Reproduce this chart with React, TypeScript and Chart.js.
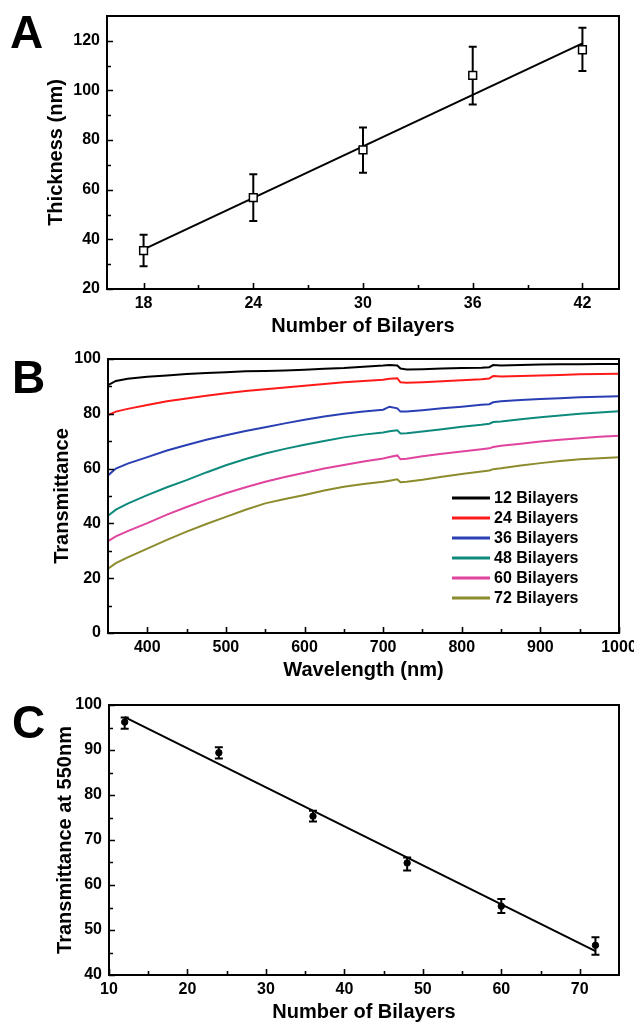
import React, { useEffect, useRef } from "react";
import { Chart, registerables } from "chart.js";

Chart.register(...registerables);

const FONT = "'Liberation Sans', Arial, Helvetica, sans-serif";

// ---------- Panel A ----------
const bilayersA = [18, 24, 30, 36, 42];
const thicknessA = [35.5, 56.8, 76.1, 106.1, 116.4];
const thicknessLowA = [29.2, 47.4, 66.8, 94.3, 107.8];
const thicknessHighA = [41.9, 66.2, 85.1, 117.6, 125.3];
const fitXA = [18, 42];
const fitYA = [36, 119];
const xTicksA = [18, 24, 30, 36, 42];
const xMinorA = [21, 27, 33, 39];
const yTicksA = [20, 40, 60, 80, 100, 120];
const yMinorA = [30, 50, 70, 90, 110];

// ---------- Panel B ----------
const wavelengthB = [350, 360, 375, 400, 425, 450, 475, 500, 525, 550, 575, 600, 625, 650, 675, 700, 708, 718, 722, 730, 750, 775, 800, 825, 835, 840, 850, 875, 900, 925, 950, 975, 1000];
const labelsB = ["12 Bilayers", "24 Bilayers", "36 Bilayers", "48 Bilayers", "60 Bilayers", "72 Bilayers"];
const colorsB = ["#000000", "#ff1a1a", "#2a3fb3", "#0e8a7c", "#e0449e", "#8c8c2e"];
const trans12 = [90.5, 92.0, 92.8, 93.5, 94.0, 94.5, 94.9, 95.2, 95.5, 95.6, 95.8, 96.1, 96.4, 96.7, 97.2, 97.6, 97.8, 97.6, 96.5, 96.2, 96.3, 96.5, 96.7, 96.8, 97.0, 97.8, 97.6, 97.8, 98.0, 98.1, 98.1, 98.2, 98.2];
const trans24 = [79.5, 80.8, 81.8, 83.2, 84.6, 85.6, 86.6, 87.5, 88.3, 89.0, 89.6, 90.2, 90.9, 91.5, 92.0, 92.4, 92.8, 93.0, 91.5, 91.3, 91.5, 91.9, 92.2, 92.6, 92.9, 93.8, 93.6, 93.8, 94.0, 94.2, 94.4, 94.5, 94.6];
const trans36 = [57.5, 60.0, 61.8, 64.2, 66.6, 68.6, 70.5, 72.2, 73.7, 75.1, 76.5, 77.8, 79.0, 80.0, 80.8, 81.5, 82.6, 82.0, 80.8, 80.8, 81.3, 82.0, 82.6, 83.3, 83.5, 84.2, 84.6, 85.0, 85.4, 85.7, 86.0, 86.2, 86.4];
const trans48 = [42.8, 45.0, 47.2, 50.3, 53.2, 55.8, 58.6, 61.2, 63.5, 65.5, 67.2, 68.7, 70.1, 71.4, 72.4, 73.2, 73.6, 74.0, 72.8, 72.9, 73.5, 74.4, 75.3, 76.0, 76.4, 77.0, 77.2, 78.0, 78.7, 79.4, 80.0, 80.5, 80.9];
const trans60 = [33.5, 35.3, 37.2, 40.1, 43.2, 46.0, 48.6, 51.0, 53.2, 55.2, 56.9, 58.5, 60.0, 61.3, 62.6, 63.7, 64.2, 64.8, 63.4, 63.6, 64.5, 65.4, 66.2, 67.1, 67.4, 67.9, 68.3, 69.1, 69.9, 70.5, 71.1, 71.6, 72.0];
const trans72 = [23.5, 25.5, 27.6, 30.8, 34.0, 37.0, 39.8, 42.4, 45.0, 47.3, 48.9, 50.4, 52.0, 53.4, 54.4, 55.2, 55.6, 56.1, 55.0, 55.2, 55.9, 57.0, 58.0, 58.9, 59.3, 59.8, 60.1, 61.1, 62.0, 62.8, 63.4, 63.8, 64.1];
const seriesB = [trans12, trans24, trans36, trans48, trans60, trans72];
const xTicksB = [400, 500, 600, 700, 800, 900, 1000];
const xMinorB = [450, 550, 650, 750, 850, 950];
const yTicksB = [0, 20, 40, 60, 80, 100];
const yMinorB = [10, 30, 50, 70, 90];

// ---------- Panel C ----------
const bilayersC = [12, 24, 36, 48, 60, 72];
const transC = [96.2, 89.4, 75.3, 64.9, 55.3, 46.6];
const transLowC = [94.7, 88.1, 74.1, 63.2, 53.8, 44.5];
const transHighC = [97.2, 90.6, 76.5, 66.1, 56.9, 48.4];
const fitXC = [12, 72];
const fitYC = [97.3, 45.3];
const xTicksC = [10, 20, 30, 40, 50, 60, 70];
const xMinorC = [15, 25, 35, 45, 55, 65];
const yTicksC = [40, 50, 60, 70, 80, 90, 100];
const yMinorC = [45, 55, 65, 75, 85, 95];

const tickFont = { family: FONT, size: 16, weight: "bold" as const };
const titleFont = { family: FONT, size: 20, weight: "bold" as const, lineHeight: 1 };

const framePlugin = {
  id: "frame",
  afterDraw(chart: any, _args: any, opts: any) {
    const { ctx, chartArea, scales } = chart;
    const { left, right, top, bottom } = chartArea;
    ctx.save();
    ctx.strokeStyle = "#000";
    ctx.lineWidth = 2;
    ctx.strokeRect(left, top, right - left, bottom - top);
    ctx.lineWidth = 1.6;
    ctx.beginPath();
    for (const v of opts.xMajor) {
      const px = Math.round(scales.x.getPixelForValue(v)) + 0.5;
      ctx.moveTo(px, bottom);
      ctx.lineTo(px, bottom - 6);
    }
    for (const v of opts.xMinor) {
      const px = Math.round(scales.x.getPixelForValue(v)) + 0.5;
      ctx.moveTo(px, bottom);
      ctx.lineTo(px, bottom - 4);
    }
    for (const v of opts.yMajor) {
      const py = Math.round(scales.y.getPixelForValue(v)) + 0.5;
      ctx.moveTo(left, py);
      ctx.lineTo(left + 6, py);
    }
    for (const v of opts.yMinor) {
      const py = Math.round(scales.y.getPixelForValue(v)) + 0.5;
      ctx.moveTo(left, py);
      ctx.lineTo(left + 4, py);
    }
    ctx.stroke();
    ctx.restore();
  },
};

const errorBarPlugin = {
  id: "errbars",
  beforeDatasetsDraw(chart: any, _args: any, opts: any) {
    if (!opts || !opts.low) return;
    const { ctx, scales } = chart;
    ctx.save();
    ctx.strokeStyle = "#000";
    ctx.lineWidth = opts.width || 2;
    ctx.beginPath();
    opts.xs.forEach((xv: number, i: number) => {
      const px = scales.x.getPixelForValue(xv);
      const pl = scales.y.getPixelForValue(opts.low[i]);
      const ph = scales.y.getPixelForValue(opts.high[i]);
      ctx.moveTo(px, pl);
      ctx.lineTo(px, ph);
      ctx.moveTo(px - opts.cap, pl);
      ctx.lineTo(px + opts.cap, pl);
      ctx.moveTo(px - opts.cap, ph);
      ctx.lineTo(px + opts.cap, ph);
    });
    ctx.stroke();
    ctx.restore();
  },
};

const legendPlugin = {
  id: "insideLegend",
  afterDraw(chart: any, _args: any, opts: any) {
    if (!opts || !opts.show) return;
    const { ctx, chartArea } = chart;
    ctx.save();
    ctx.font = `bold 16px ${FONT}`;
    ctx.textAlign = "left";
    ctx.textBaseline = "middle";
    chart.data.datasets.forEach((ds: any, i: number) => {
      const y = chartArea.top + opts.top + i * opts.row;
      const x0 = chartArea.right - opts.fromRight;
      ctx.strokeStyle = ds.borderColor;
      ctx.lineWidth = 3;
      ctx.beginPath();
      ctx.moveTo(x0, y);
      ctx.lineTo(x0 + 38, y);
      ctx.stroke();
      ctx.fillStyle = "#000";
      ctx.fillText(ds.label, x0 + 42, y + 1);
    });
    ctx.restore();
  },
};

function makeScales(cfg: any) {
  return {
    x: {
      type: "linear",
      min: cfg.xMin,
      max: cfg.xMax,
      afterBuildTicks: (s: any) => {
        s.ticks = cfg.xTicks.map((v: number) => ({ value: v }));
      },
      afterFit: (s: any) => {
        s.height = cfg.xHeight;
        s.paddingLeft = 0;
        s.paddingRight = 0;
      },
      grid: { display: false, drawTicks: false },
      border: { display: false },
      ticks: {
        font: tickFont,
        color: "#000",
        padding: cfg.xTickPad,
        maxRotation: 0,
        autoSkip: false,
        callback: (v: any) => String(v),
      },
      title: {
        display: true,
        text: cfg.xTitle,
        font: titleFont,
        color: "#000",
        padding: { top: 0, bottom: cfg.xTitlePad },
      },
    },
    y: {
      type: "linear",
      min: cfg.yMin,
      max: cfg.yMax,
      afterBuildTicks: (s: any) => {
        s.ticks = cfg.yTicks.map((v: number) => ({ value: v }));
      },
      afterFit: (s: any) => {
        s.width = cfg.yWidth;
        s.paddingTop = 0;
        s.paddingBottom = 0;
      },
      grid: { display: false, drawTicks: false },
      border: { display: false },
      ticks: { font: tickFont, color: "#000", padding: 7, autoSkip: false, callback: (v: any) => String(v) },
      title: {
        display: true,
        text: cfg.yTitle,
        font: titleFont,
        color: "#000",
        padding: { top: cfg.yTitlePad, bottom: 0 },
      },
    },
  };
}

export default function App() {
  const refA = useRef<HTMLCanvasElement>(null);
  const refB = useRef<HTMLCanvasElement>(null);
  const refC = useRef<HTMLCanvasElement>(null);

  useEffect(() => {
    const charts: Chart[] = [];

    // Panel A
    charts.push(
      new Chart(refA.current as HTMLCanvasElement, {
        type: "scatter",
        data: {
          datasets: [
            {
              label: "Thickness",
              data: bilayersA.map((x, i) => ({ x, y: thicknessA[i] })),
              pointStyle: "rect",
              pointRadius: 5.5,
              backgroundColor: "#fff",
              borderColor: "#000",
              borderWidth: 1.5,
              showLine: false,
            },
            {
              label: "Fit",
              data: fitXA.map((x, i) => ({ x, y: fitYA[i] })),
              showLine: true,
              pointRadius: 0,
              borderColor: "#000",
              borderWidth: 2,
            },
          ],
        },
        options: {
          responsive: false,
          animation: false,
          layout: { padding: { left: 0, right: 15, top: 16, bottom: 0 } },
          plugins: {
            legend: { display: false },
            tooltip: { enabled: false },
            frame: { xMajor: xTicksA, xMinor: xMinorA, yMajor: yTicksA, yMinor: yMinorA },
            errbars: { xs: bilayersA, low: thicknessLowA, high: thicknessHighA, cap: 4, width: 2 },
          } as any,
          scales: makeScales({
            xMin: 16, xMax: 44, xTicks: xTicksA, xHeight: 56, xTickPad: 5, xTitle: "Number of Bilayers", xTitlePad: 9,
            yMin: 20, yMax: 130, yTicks: yTicksA, yWidth: 107, yTitle: "Thickness (nm)", yTitlePad: 46,
          }) as any,
        },
        plugins: [framePlugin, errorBarPlugin],
      })
    );

    // Panel B
    charts.push(
      new Chart(refB.current as HTMLCanvasElement, {
        type: "line",
        data: {
          datasets: seriesB.map((vals, k) => ({
            label: labelsB[k],
            data: wavelengthB.map((x, i) => ({ x, y: vals[i] })),
            borderColor: colorsB[k],
            backgroundColor: colorsB[k],
            borderWidth: 2,
            pointRadius: 0,
            tension: 0,
          })),
        },
        options: {
          responsive: false,
          animation: false,
          layout: { padding: { left: 0, right: 15, top: 14, bottom: 0 } },
          plugins: {
            legend: { display: false },
            tooltip: { enabled: false },
            frame: { xMajor: xTicksB, xMinor: xMinorB, yMajor: yTicksB, yMinor: yMinorB },
            insideLegend: { show: true, top: 139, row: 20, fromRight: 167 },
          } as any,
          scales: makeScales({
            xMin: 350, xMax: 1000, xTicks: xTicksB, xHeight: 52, xTickPad: 5, xTitle: "Wavelength (nm)", xTitlePad: 4.5,
            yMin: 0, yMax: 100, yTicks: yTicksB, yWidth: 108, yTitle: "Transmittance", yTitlePad: 52,
          }) as any,
        },
        plugins: [framePlugin, legendPlugin],
      })
    );

    // Panel C
    charts.push(
      new Chart(refC.current as HTMLCanvasElement, {
        type: "scatter",
        data: {
          datasets: [
            {
              label: "Transmittance at 550nm",
              data: bilayersC.map((x, i) => ({ x, y: transC[i] })),
              pointStyle: "circle",
              pointRadius: 3.2,
              backgroundColor: "#000",
              borderColor: "#000",
              borderWidth: 1,
              showLine: false,
            },
            {
              label: "Fit",
              data: fitXC.map((x, i) => ({ x, y: fitYC[i] })),
              showLine: true,
              pointRadius: 0,
              borderColor: "#000",
              borderWidth: 2,
            },
          ],
        },
        options: {
          responsive: false,
          animation: false,
          layout: { padding: { left: 0, right: 15, top: 20, bottom: 0 } },
          plugins: {
            legend: { display: false },
            tooltip: { enabled: false },
            frame: { xMajor: xTicksC, xMinor: xMinorC, yMajor: yTicksC, yMinor: yMinorC },
            errbars: { xs: bilayersC, low: transLowC, high: transHighC, cap: 4, width: 2 },
          } as any,
          scales: makeScales({
            xMin: 10, xMax: 75, xTicks: xTicksC, xHeight: 47, xTickPad: 5, xTitle: "Number of Bilayers", xTitlePad: 0,
            yMin: 40, yMax: 100, yTicks: yTicksC, yWidth: 109, yTitle: "Transmittance at 550nm", yTitlePad: 55,
          }) as any,
        },
        plugins: [framePlugin, errorBarPlugin],
      })
    );

    return () => charts.forEach((c) => c.destroy());
  }, []);

  const letter: React.CSSProperties = {
    position: "absolute",
    fontFamily: FONT,
    fontWeight: "bold",
    fontSize: 46,
    lineHeight: 1,
    color: "#000",
  };

  return (
    <div style={{ position: "absolute", left: 0, top: 0, width: 634, height: 1022, background: "#fff", overflow: "hidden" }}>
      <canvas ref={refA} width={634} height={345} style={{ position: "absolute", left: 0, top: 0 }} />
      <canvas ref={refB} width={634} height={340} style={{ position: "absolute", left: 0, top: 345 }} />
      <canvas ref={refC} width={634} height={337} style={{ position: "absolute", left: 0, top: 685 }} />
      <div style={{ ...letter, left: 10, top: 9 }}>A</div>
      <div style={{ ...letter, left: 12, top: 354 }}>B</div>
      <div style={{ ...letter, left: 12, top: 699 }}>C</div>
    </div>
  );
}
